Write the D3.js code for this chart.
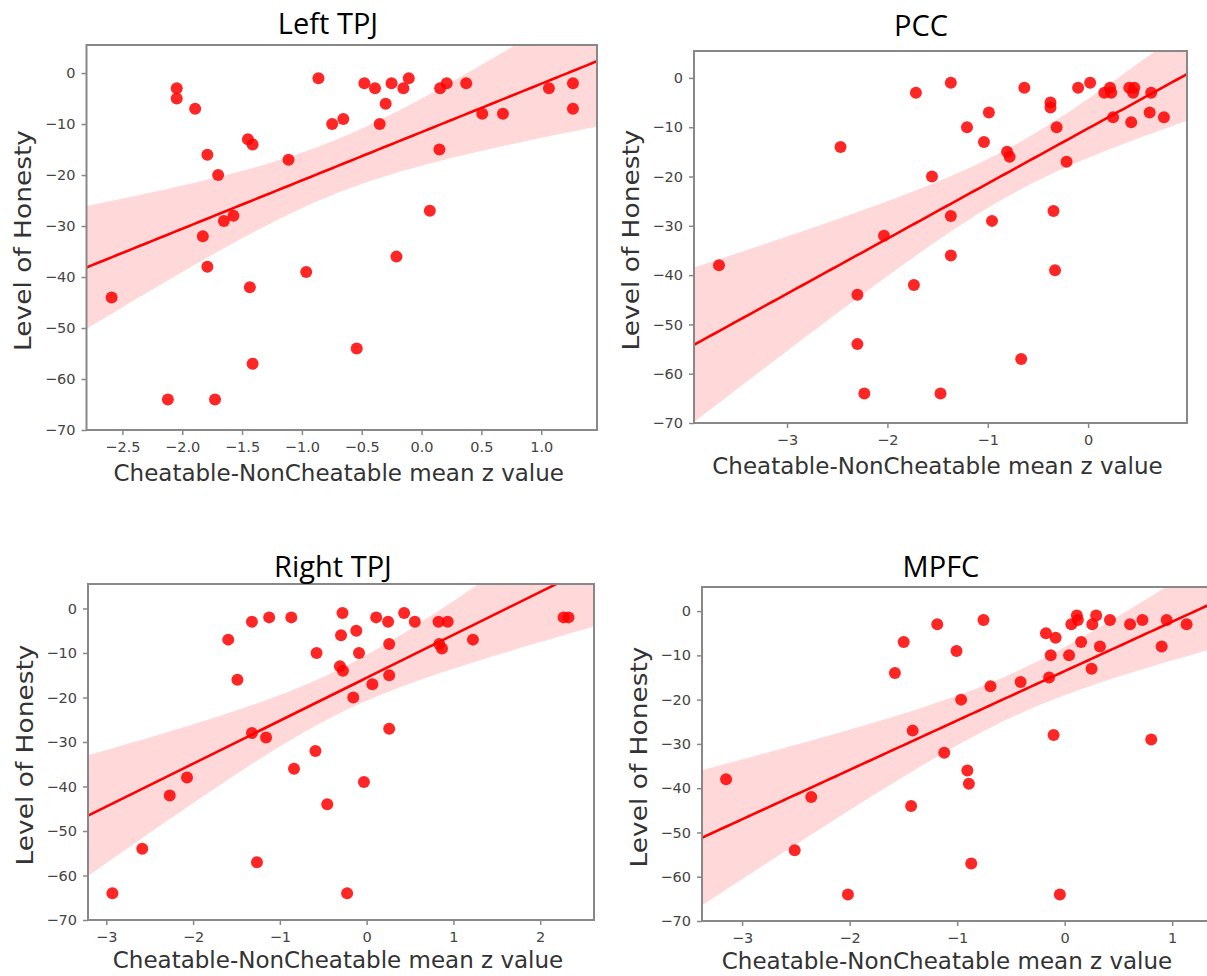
<!DOCTYPE html>
<html><head><meta charset="utf-8">
<script src="https://cdn.jsdelivr.net/npm/d3@7"></script>
<style>body{margin:0;background:#fff} svg{display:block}</style>
</head><body>
<svg id="c" width="1207" height="976"></svg>
<script>
// ---------------- data ----------------
const titles = ["Left TPJ", "PCC", "Right TPJ", "MPFC"];
const xLabel = "Cheatable-NonCheatable mean z value";
const yLabel = "Level of Honesty";

const leftTpjX = [-2.59,-2.046,-2.046,-1.892,-1.79,-1.70,-1.652,-1.572,-1.828,-1.79,-2.12,-1.726,-1.451,-1.412,-1.435,-1.412,-1.112,-0.964,-0.862,-0.747,-0.654,-0.542,-0.478,-0.389,-0.35,-0.30,-0.251,-0.21,-0.152,-0.107,0.069,0.149,0.155,0.21,0.373,0.507,0.68,1.064,1.265,1.265];
const leftTpjY = [-44,-3,-5,-7,-16,-20,-29,-28,-32,-38,-64,-64,-13,-14,-42,-57,-17,-39,-1,-10,-9,-54,-2,-3,-10,-6,-2,-36,-3,-1,-27,-15,-3,-2,-2,-8,-8,-3,-2,-7];

const pccX = [-3.678,-2.467,-2.299,-2.299,-2.23,-2.034,-1.736,-1.716,-1.556,-1.471,-1.368,-1.368,-1.368,-1.207,-1.038,-0.989,-0.958,-0.808,-0.782,-0.667,-0.636,-0.375,-0.375,-0.345,-0.33,-0.314,-0.215,-0.10,0.02,0.161,0.218,0.23,0.249,0.41,0.448,0.429,0.628,0.613,0.755,0.46];
const pccY = [-38,-14,-44,-54,-64,-32,-42,-3,-20,-64,-1,-28,-36,-10,-13,-7,-29,-15,-16,-57,-2,-5,-6,-27,-39,-10,-17,-2,-1,-3,-2,-3,-8,-2,-3,-9,-3,-7,-8,-2];

const rightTpjX = [-2.93,-2.586,-2.269,-2.07,-1.595,-1.489,-1.322,-1.123,-1.322,-1.159,-1.264,-0.868,-0.837,-0.59,-0.577,-0.454,-0.278,-0.295,-0.308,-0.273,-0.225,-0.119,-0.088,-0.154,-0.031,0.066,0.11,0.247,0.26,0.26,0.26,0.432,0.555,0.828,0.934,0.837,0.868,1.225,2.269,2.326];
const rightTpjY = [-64,-54,-42,-38,-7,-16,-3,-2,-28,-29,-57,-2,-36,-32,-10,-44,-1,-6,-13,-14,-64,-5,-10,-20,-39,-17,-2,-3,-8,-15,-27,-1,-3,-3,-3,-8,-9,-7,-2,-2];

const mpfcX = [-3.149,-2.511,-2.357,-2.016,-1.579,-1.497,-1.414,-1.428,-1.185,-1.12,-1.006,-0.963,-0.905,-0.891,-0.869,-0.755,-0.69,-0.41,-0.174,-0.084,-0.13,-0.145,-0.103,-0.045,0.041,0.062,0.113,0.123,0.153,0.257,0.25,0.293,0.328,0.421,0.608,0.723,0.805,0.902,0.948,1.134];
const mpfcY = [-38,-54,-42,-64,-14,-7,-27,-44,-3,-32,-9,-20,-36,-39,-57,-2,-17,-16,-5,-6,-10,-15,-28,-64,-10,-3,-1,-2,-7,-3,-13,-1,-8,-2,-3,-2,-29,-8,-2,-3];

const yTicks = [0, -10, -20, -30, -40, -50, -60, -70];
const leftTpjXTicks = [-2.5, -2.0, -1.5, -1.0, -0.5, 0.0, 0.5, 1.0];
const pccXTicks = [-3, -2, -1, 0];
const rightTpjXTicks = [-3, -2, -1, 0, 1, 2];
const mpfcXTicks = [-3, -2, -1, 0, 1];

// ---------------- layout ----------------
const panels = [
  {title: titles[0], xs: leftTpjX, ys: leftTpjY, ticks: leftTpjXTicks, fmt: d3.format(".1f"),
   box: [86.5, 597, 45, 430], xd: [-2.80, 1.466], yd: [-70, 5.5], tpos: [328, 22], labRight: 597, labOff: 43},
  {title: titles[1], xs: pccX, ys: pccY, ticks: pccXTicks, fmt: d3.format("d"),
   box: [694, 1187, 51, 423], xd: [-3.927, 0.985], yd: [-70, 5.46], tpos: [921, 24], labRight: 1187, labOff: 43},
  {title: titles[2], xs: rightTpjX, ys: rightTpjY, ticks: rightTpjXTicks, fmt: d3.format("d"),
   box: [88, 594, 584, 920], xd: [-3.211, 2.62], yd: [-70, 5.5], tpos: [333, 565], labRight: 594, labOff: 40},
  {title: titles[3], xs: mpfcX, ys: mpfcY, ticks: mpfcXTicks, fmt: d3.format("d"),
   box: [702, 1215, 587, 921], xd: [-3.373, 1.398], yd: [-70, 5.44], tpos: [941, 565], labRight: 1198, labOff: 40}
];

const svg = d3.select("#c");
svg.append("rect").attr("width", 1207).attr("height", 976).attr("fill", "#fff");

const tCrit = 2.024;

panels.forEach((p, i) => {
  const [x0, x1, y0, y1] = p.box;
  const x = d3.scaleLinear().domain(p.xd).range([x0, x1]);
  const y = d3.scaleLinear().domain(p.yd).range([y1, y0]);
  const g = svg.append("g");

  const clipId = "clip" + i;
  svg.append("clipPath").attr("id", clipId)
    .append("rect").attr("x", x0).attr("y", y0).attr("width", x1 - x0).attr("height", y1 - y0);

  // regression (ordinary least squares + 95% confidence band)
  const n = p.xs.length;
  const xm = d3.mean(p.xs), ym = d3.mean(p.ys);
  let sxx = 0, sxy = 0;
  for (let k = 0; k < n; k++) { sxx += (p.xs[k] - xm) ** 2; sxy += (p.xs[k] - xm) * (p.ys[k] - ym); }
  const b = sxy / sxx, a = ym - b * xm;
  let sse = 0;
  for (let k = 0; k < n; k++) sse += (p.ys[k] - (a + b * p.xs[k])) ** 2;
  const s = Math.sqrt(sse / (n - 2));
  const grid = d3.range(0, 101).map(k => p.xd[0] + (p.xd[1] - p.xd[0]) * k / 100);
  const band = grid.map(v => {
    const yh = a + b * v;
    const h = tCrit * s * Math.sqrt(1 / n + (v - xm) ** 2 / sxx);
    return {v, lo: yh - h, hi: yh + h, yh};
  });

  const plot = g.append("g").attr("clip-path", `url(#${clipId})`);
  plot.selectAll("circle").data(p.xs.map((v, k) => [v, p.ys[k]])).enter()
    .append("circle").attr("cx", d => x(d[0])).attr("cy", d => y(d[1]))
    .attr("r", 6).attr("fill", "#ff0000").attr("fill-opacity", 0.85);
  plot.append("path").datum(band)
    .attr("d", d3.area().x(d => x(d.v)).y0(d => y(d.lo)).y1(d => y(d.hi)))
    .attr("fill", "#ff0000").attr("fill-opacity", 0.15);
  plot.append("path").datum(band)
    .attr("d", d3.line().x(d => x(d.v)).y(d => y(d.yh)))
    .attr("fill", "none").attr("stroke", "#ff0000").attr("stroke-width", 2.6);

  // axes
  const xa = g.append("g").attr("transform", `translate(0,${y1})`)
    .call(d3.axisBottom(x).tickValues(p.ticks).tickFormat(p.fmt).tickSize(5).tickPadding(7));
  const ya = g.append("g").attr("transform", `translate(${x0},0)`)
    .call(d3.axisLeft(y).tickValues(yTicks).tickFormat(d3.format("d")).tickSize(5).tickPadding(6));
  [xa, ya].forEach(ax => {
    ax.select(".domain").remove();
    ax.selectAll(".tick line").attr("stroke", "#888").attr("stroke-width", 1.5);
    ax.selectAll(".tick text").attr("fill", "#444").style("font-family", "DejaVu Sans")
      .style("font-size", "14.5px");
  });

  // frame
  g.append("rect").attr("x", x0).attr("y", y0).attr("width", x1 - x0).attr("height", y1 - y0)
    .attr("fill", "none").attr("stroke", "#888").attr("stroke-width", 2);

  // labels
  g.append("text").attr("x", (x0 + p.labRight) / 2 - 3).attr("y", y1 + p.labOff)
    .attr("text-anchor", "middle").attr("dominant-baseline", "central")
    .style("font-family", "DejaVu Sans").style("font-size", "23px").attr("fill", "#333")
    .text(xLabel);
  g.append("text").attr("transform", `translate(${x0 - 63},${(y0 + y1) / 2 + 3}) rotate(-90) scale(1.15,1)`)
    .attr("text-anchor", "middle").attr("dominant-baseline", "central")
    .style("font-family", "DejaVu Sans").style("font-size", "23px").attr("fill", "#333")
    .text(yLabel);
  g.append("text").attr("x", p.tpos[0]).attr("y", p.tpos[1])
    .attr("text-anchor", "middle").attr("dominant-baseline", "central")
    .style("font-family", "Open Sans").style("font-size", "29px").attr("fill", "#000")
    .text(p.title);
});
</script>
</body></html>
